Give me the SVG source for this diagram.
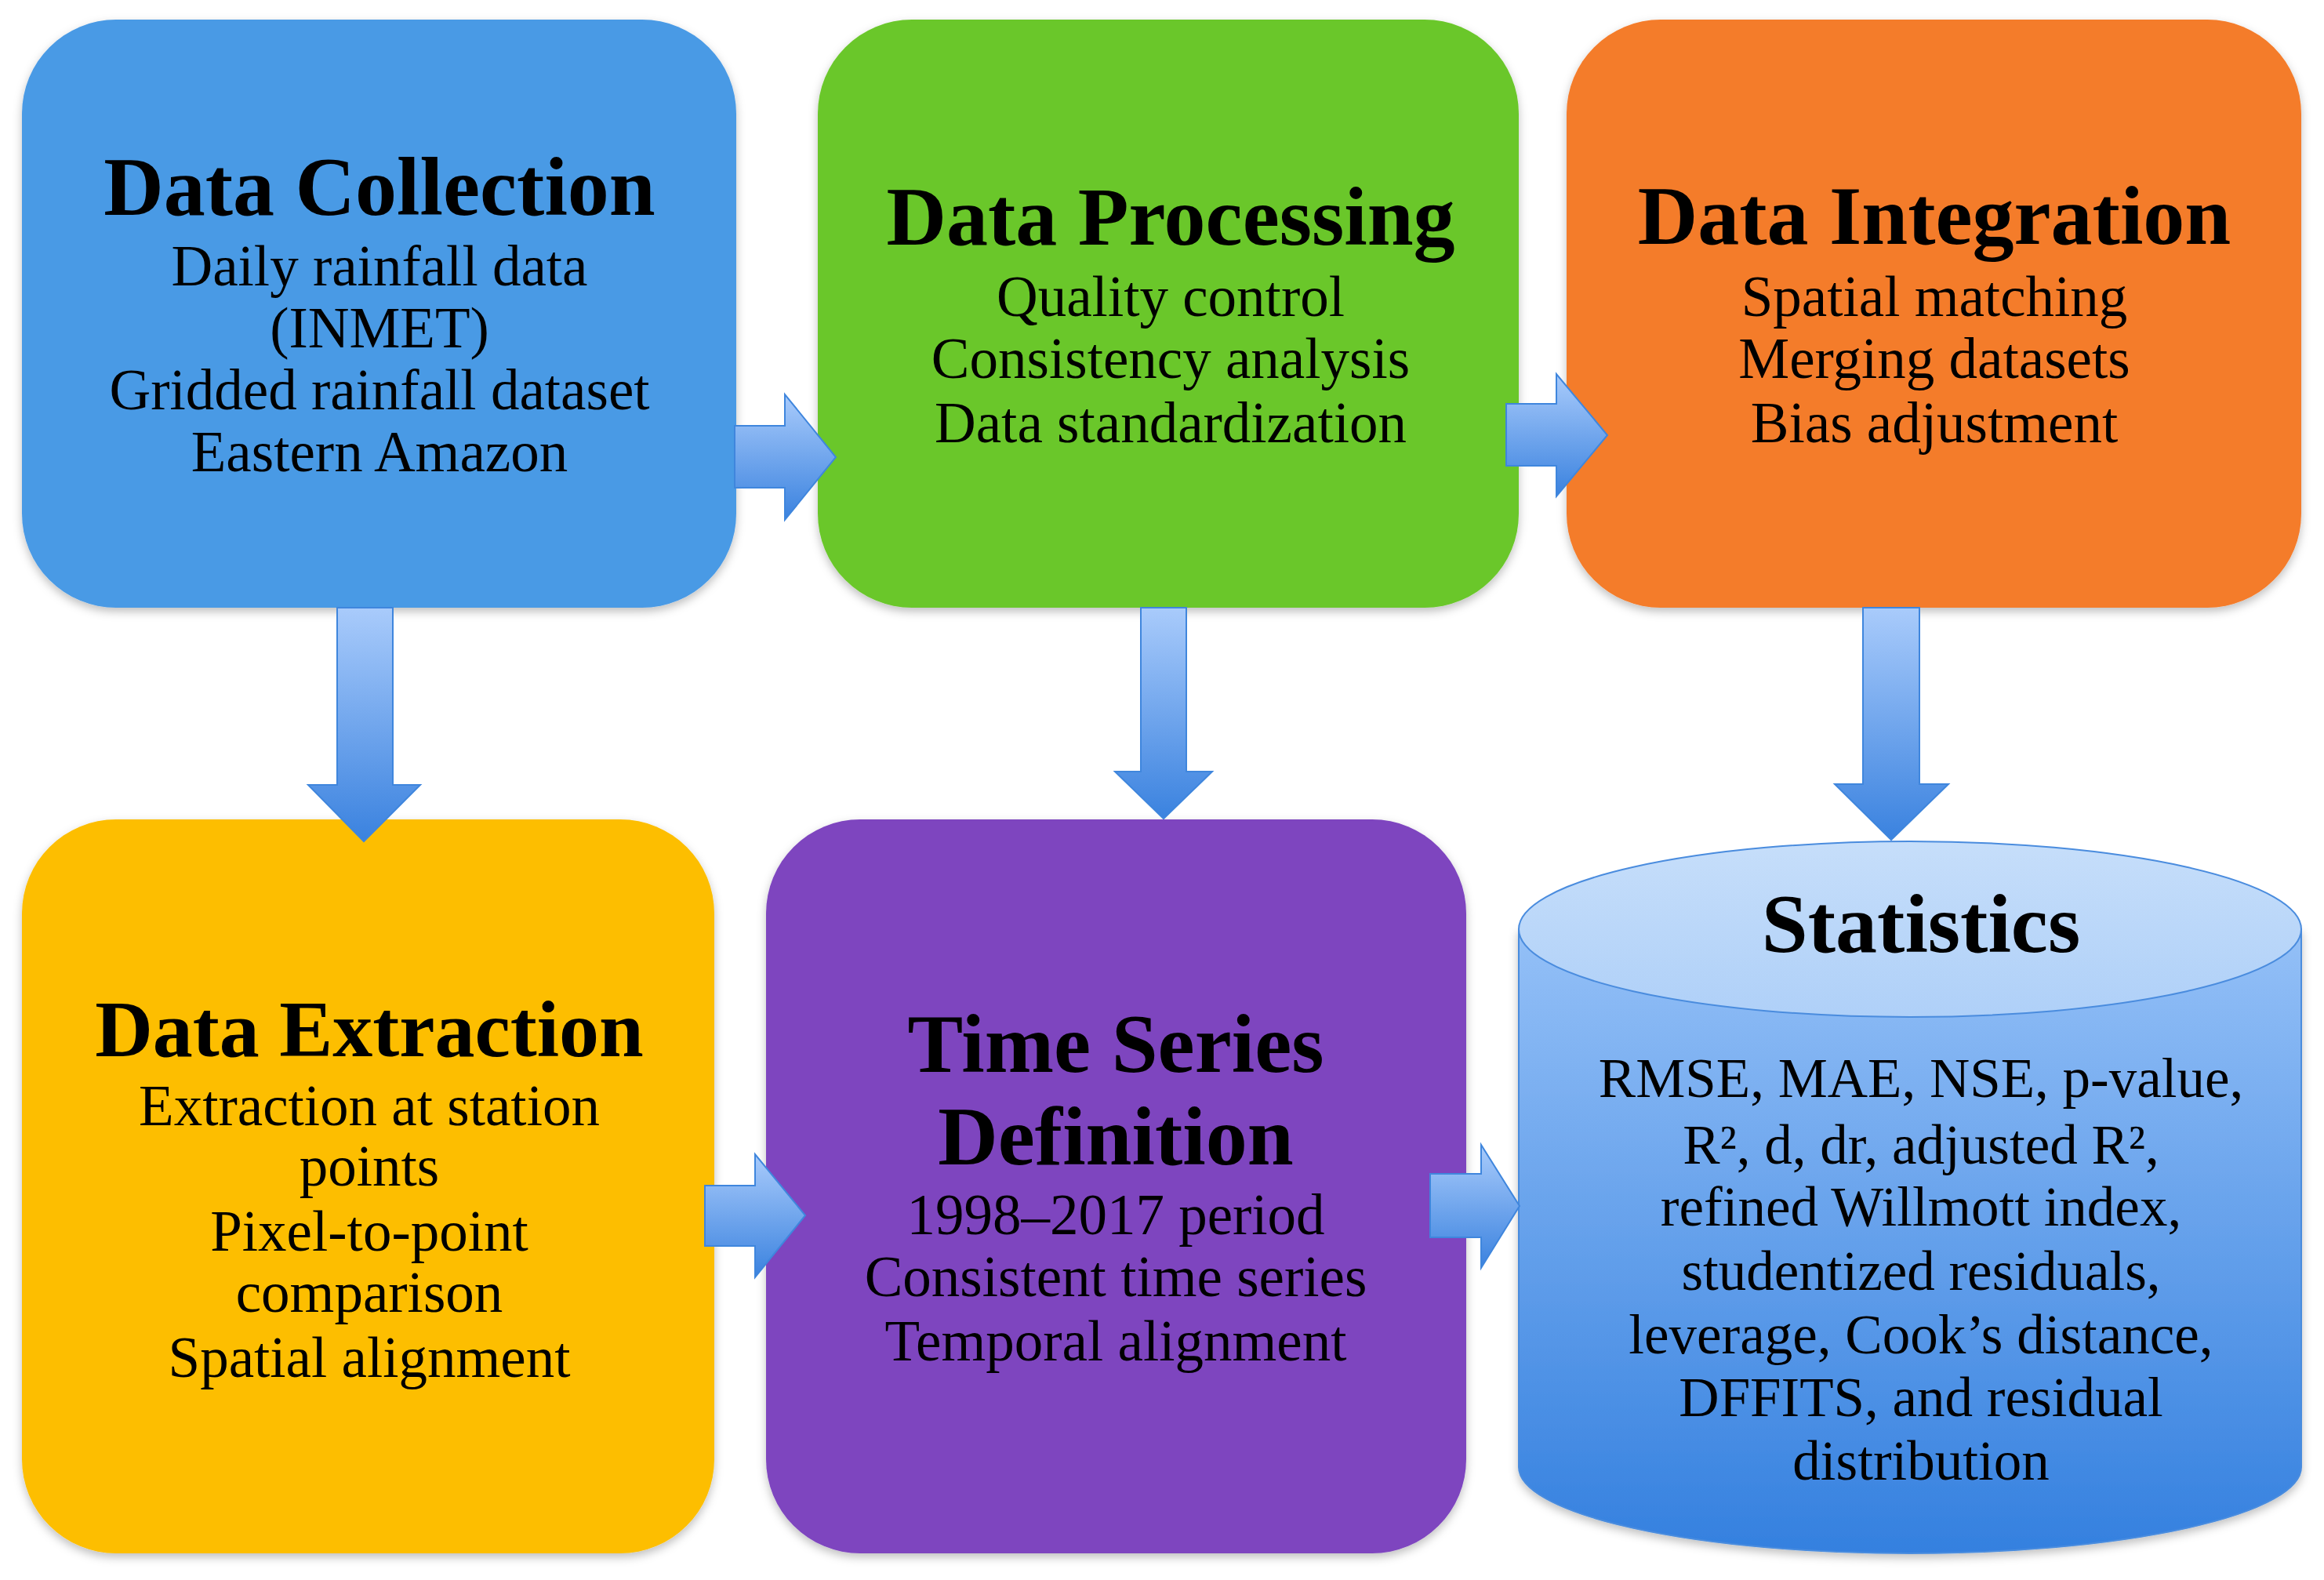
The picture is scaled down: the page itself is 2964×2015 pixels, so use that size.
<svg xmlns="http://www.w3.org/2000/svg" width="2964" height="2015" viewBox="0 0 2964 2015">
<style>
.t{font-family:"Liberation Serif","Times New Roman",serif;font-weight:bold;font-size:106px;text-anchor:middle;fill:#000}
.b{font-family:"Liberation Serif","Times New Roman",serif;font-size:73px;text-anchor:middle;fill:#000}
.s{font-size:71px}
.arrow{fill:url(#ag);stroke:#3F86DD;stroke-width:2}
</style>
<defs>
<linearGradient id="ag" x1="0" y1="0" x2="0" y2="1">
<stop offset="0" stop-color="#A9CBFB"/>
<stop offset="1" stop-color="#3A82DF"/>
</linearGradient>
<linearGradient id="cg" x1="0" y1="0" x2="0" y2="1">
<stop offset="0" stop-color="#94C0F7"/>
<stop offset="1" stop-color="#3480DF"/>
</linearGradient>
<linearGradient id="ctop" x1="0" y1="0" x2="0" y2="1">
<stop offset="0" stop-color="#C6DEFA"/>
<stop offset="1" stop-color="#AFD0F8"/>
</linearGradient>
<filter id="sh" x="-5%" y="-5%" width="110%" height="112%">
<feDropShadow dx="0" dy="5" stdDeviation="6" flood-color="#000" flood-opacity="0.25"/>
</filter>
</defs>
<rect width="2964" height="2015" fill="#fff"/>

<g id="data-collection">
<rect x="28" y="25" width="911" height="750" rx="120" fill="#4A9AE5" filter="url(#sh)"/>
<text class="t" x="484" y="274">Data Collection</text>
<text class="b" x="484" y="364">Daily rainfall data</text>
<text class="b" x="484" y="443">(INMET)</text>
<text class="b" x="484" y="522">Gridded rainfall dataset</text>
<text class="b" x="484" y="601">Eastern Amazon</text>
</g>

<g id="data-processing">
<rect x="1043" y="25" width="894" height="750" rx="120" fill="#6AC72C" filter="url(#sh)"/>
<text class="t" x="1493" y="312">Data Processing</text>
<text class="b" x="1493" y="403">Quality control</text>
<text class="b" x="1493" y="482">Consistency analysis</text>
<text class="b" x="1493" y="564">Data standardization</text>
</g>

<g id="data-integration">
<rect x="1998" y="25" width="937" height="750" rx="120" fill="#F47B2A" filter="url(#sh)"/>
<text class="t" x="2467" y="311">Data Integration</text>
<text class="b" x="2467" y="403">Spatial matching</text>
<text class="b" x="2467" y="482">Merging datasets</text>
<text class="b" x="2467" y="564">Bias adjustment</text>
</g>

<g id="data-extraction">
<rect x="28" y="1045" width="883" height="936" rx="120" fill="#FDBE00" filter="url(#sh)"/>
<text class="t" x="471" y="1347" style="font-size:102px">Data Extraction</text>
<text class="b" x="471" y="1435">Extraction at station</text>
<text class="b" x="471" y="1512">points</text>
<text class="b" x="471" y="1595">Pixel-to-point</text>
<text class="b" x="471" y="1673">comparison</text>
<text class="b" x="471" y="1756">Spatial alignment</text>
</g>

<g id="time-series-definition">
<rect x="977" y="1045" width="893" height="936" rx="120" fill="#7E45BF" filter="url(#sh)"/>
<text class="t" x="1423" y="1367">Time Series</text>
<text class="t" x="1423" y="1485">Definition</text>
<text class="b" x="1423" y="1574">1998–2017 period</text>
<text class="b" x="1423" y="1653">Consistent time series</text>
<text class="b" x="1423" y="1735">Temporal alignment</text>
</g>

<g id="statistics">
<path d="M1937,1185 L1937,1871 A499,110 0 0 0 2935,1871 L2935,1185 Z" fill="url(#cg)" stroke="#4A8CDE" stroke-width="2" filter="url(#sh)"/>
<ellipse cx="2436" cy="1185" rx="499" ry="112" fill="url(#ctop)" stroke="#4A8CDE" stroke-width="2"/>
<text class="t" x="2450" y="1214">Statistics</text>
<text class="b s" x="2450" y="1399">RMSE, MAE, NSE, p-value,</text>
<text class="b s" x="2450" y="1484">R², d, dr, adjusted R²,</text>
<text class="b s" x="2450" y="1563">refined Willmott index,</text>
<text class="b s" x="2450" y="1645">studentized residuals,</text>
<text class="b s" x="2450" y="1726">leverage, Cook’s distance,</text>
<text class="b s" x="2450" y="1806">DFFITS, and residual</text>
<text class="b s" x="2450" y="1887">distribution</text>
</g>

<g id="connectors">
<polygon class="arrow" points="937,543 1001,543 1001,503 1066,583 1001,663 1001,622 937,622"/>
<polygon class="arrow" points="1921,515 1985,515 1985,477 2050,555 1985,633 1985,594 1921,594"/>
<polygon class="arrow" points="430,775 501,775 501,1001 536,1001 464,1073 393,1001 430,1001"/>
<polygon class="arrow" points="1455,775 1513,775 1513,984 1546,984 1484,1044 1422,984 1455,984"/>
<polygon class="arrow" points="2376,775 2448,775 2448,1000 2485,1000 2412,1071 2340,1000 2376,1000"/>
<polygon class="arrow" points="899,1512 963,1512 963,1472 1027,1550 963,1629 963,1589 899,1589"/>
<polygon class="arrow" points="1824,1497 1889,1497 1889,1460 1938,1538 1889,1617 1889,1578 1824,1578"/>
</g>
</svg>
